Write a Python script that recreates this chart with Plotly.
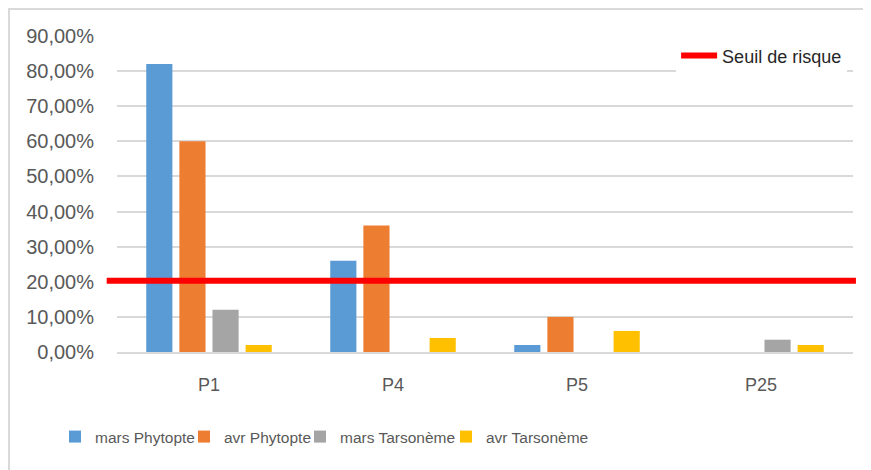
import plotly.graph_objects as go

categories = ["P1", "P4", "P5", "P25"]
series_names = ["mars Phytopte", "avr Phytopte", "mars Tarsonème", "avr Tarsonème"]
mars_phytopte = [0.82, 0.26, 0.02, 0.0]
avr_phytopte = [0.60, 0.36, 0.10, 0.0]
mars_tarsoneme = [0.12, 0.0, 0.0, 0.035]
avr_tarsoneme = [0.02, 0.04, 0.06, 0.02]
seuil_name = "Seuil de risque"
seuil_value = 0.203
y_ticks = [0.0, 0.1, 0.2, 0.3, 0.4, 0.5, 0.6, 0.7, 0.8, 0.9]
y_tick_labels = ["0,00%", "10,00%", "20,00%", "30,00%", "40,00%", "50,00%",
                 "60,00%", "70,00%", "80,00%", "90,00%"]

colors = ["#5B9BD5", "#ED7D31", "#A5A5A5", "#FFC000"]
series = [mars_phytopte, avr_phytopte, mars_tarsoneme, avr_tarsoneme]
legend_ids = ["legend3", "legend4", "legend5", "legend6"]
legend_x = [47, 176, 292, 438]  # left edge of each legend entry box (px, figure)

fig = go.Figure()
for name, vals, col, lid in zip(series_names, series, colors, legend_ids):
    fig.add_trace(go.Bar(x=categories, y=vals, name=name, marker_color=col,
                         marker_line_width=0, legend=lid))
# legend entry for threshold (default legend)
fig.add_trace(go.Scatter(x=[None], y=[None], mode="lines", name=seuil_name,
                         line=dict(color="#FF0000", width=6), legend="legend"))

# threshold line (drawn across the plot, slightly beyond it)
fig.add_shape(type="line", xref="paper", yref="y", x0=-0.014, x1=1.004,
              y0=seuil_value, y1=seuil_value, line=dict(color="#FF0000", width=6))

fig.add_shape(type="rect", xref="paper", yref="paper", x0=-0.1467, x1=1.3,
              y0=-0.6, y1=1.0854, line=dict(color="#D9D9D9", width=2),
              fillcolor="rgba(0,0,0,0)", layer="below")

W, H = 863, 462
legend_font = dict(family="Liberation Sans, Arial, sans-serif", size=15.5, color="#595959")
layout_legends = {}
for lid, lx in zip(legend_ids, legend_x):
    layout_legends[lid] = dict(orientation="h", xref="container", yref="container",
                               x=lx / W, xanchor="left", y=(H - 429) / H, yanchor="middle",
                               font=legend_font, itemwidth=30, bgcolor="rgba(0,0,0,0)")

fig.update_layout(
    width=W, height=H,
    margin=dict(l=109, r=18, t=28, b=118),
    paper_bgcolor="white", plot_bgcolor="white",
    showlegend=True,
    barmode="group", bargap=0.28, bargroupgap=0.21,
    font=dict(family="Liberation Sans, Arial, sans-serif", color="#595959"),
    xaxis=dict(type="category", categoryorder="array", categoryarray=categories,
               showgrid=False, showline=True, linecolor="#D9D9D9", linewidth=2,
               tickfont=dict(size=18, color="#595959"), ticks="", ticklabelstandoff=15),
    yaxis=dict(range=[0, 0.9], tickvals=y_ticks, ticktext=y_tick_labels,
               showgrid=True, gridcolor="#D9D9D9", gridwidth=2, zeroline=False,
               tickfont=dict(size=20, color="#595959"), ticklabelstandoff=22),
    legend=dict(x=0.992, xanchor="right", y=0.937, yanchor="middle",
                font=dict(size=18, color="#262626"), bgcolor="white", itemwidth=36),
    **layout_legends,
)

fig.write_html("out.html")
